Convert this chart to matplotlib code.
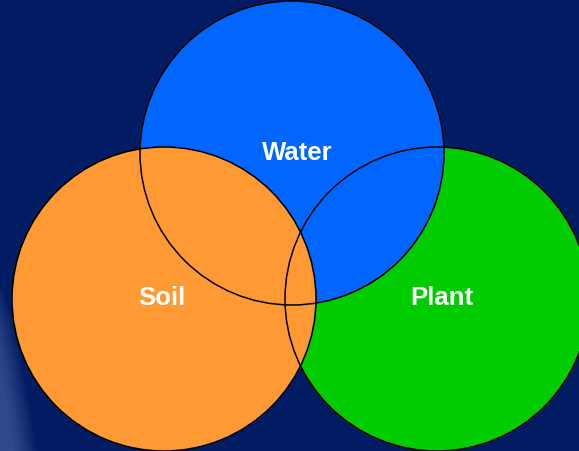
import matplotlib
matplotlib.use("Agg")
import matplotlib.pyplot as plt
from matplotlib.patches import Circle, Polygon
import numpy as np

labels = ["Plant", "Water", "Soil"]
centers_x = [437, 292, 164]
centers_y = [300, 154, 300]
radii = [152, 152, 152]
colors = ["#00cc00", "#0066ff", "#ff9933"]
label_x = [442, 297, 162]
label_y = [298, 153, 298]

fig = plt.figure(figsize=(5.79, 4.52), dpi=100)
fig.patch.set_facecolor("#021c63")
ax = fig.add_axes([0, 0, 1, 1])
ax.set_facecolor("#021c63")
ax.set_xlim(0, 579)
ax.set_ylim(452, 0)
ax.axis("off")

# soft glow at lower left
ys = np.linspace(290, 452, 60)
for k in range(7):
    edge = 36 * np.clip((ys - 290) / 162, 0, 1) ** 0.7 - k * 3.5
    pts = list(zip(edge, ys)) + [(-5, 452), (-5, 290)]
    ax.add_patch(Polygon(pts, closed=True, facecolor="#7d8fcf", edgecolor="none",
                         alpha=0.07, zorder=0.5))

for cx, cy, r, c in zip(centers_x, centers_y, radii, colors):
    ax.add_patch(Circle((cx, cy), r, facecolor=c, edgecolor="none", zorder=1))
for cx, cy, r in zip(centers_x, centers_y, radii):
    ax.add_patch(Circle((cx, cy), r, facecolor="none", edgecolor="black", lw=1.1, zorder=2))

for t, x, y in zip(labels, label_x, label_y):
    ax.text(x, y, t, color="white", fontsize=18.5, fontweight="bold",
            family="Liberation Sans", ha="center", va="center", zorder=3)

fig.savefig("out.png", dpi=100, facecolor=fig.get_facecolor())
